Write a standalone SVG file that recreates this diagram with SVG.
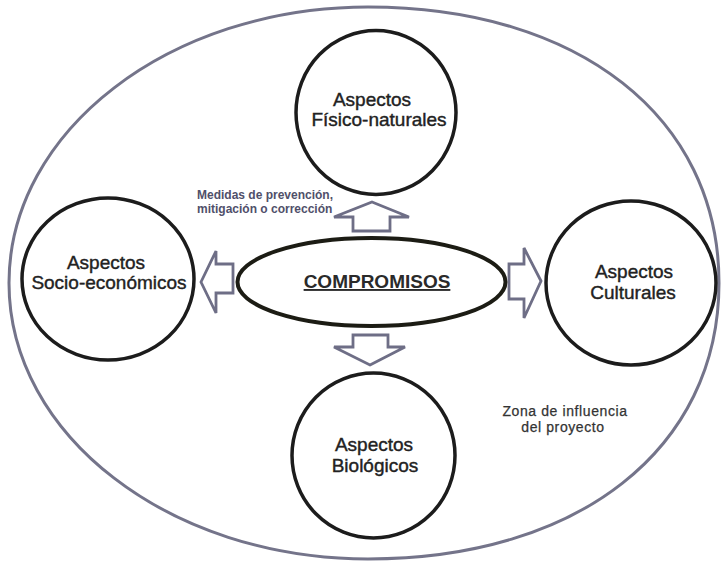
<svg xmlns="http://www.w3.org/2000/svg" width="721" height="562" viewBox="0 0 721 562">
<style>
.bg{fill:#ffffff}
.zone{fill:none;stroke:#74748a;stroke-width:3}
.node{fill:#ffffff;stroke:#1c1c1c;stroke-width:3.5}
.core{fill:#ffffff;stroke:#1c1c14;stroke-width:4}
.lbl{font-family:"Liberation Sans",Arial,sans-serif;font-size:19px;fill:#222222;stroke:#222222;stroke-width:0.4;text-anchor:middle}
.core-lbl{font-family:"Liberation Sans",Arial,sans-serif;font-size:19px;font-weight:bold;fill:#2a2a2a;text-anchor:middle;text-decoration:underline}
.note{font-family:"Liberation Sans",Arial,sans-serif;font-size:12px;font-weight:bold;fill:#50506a}
.zlbl{font-family:"Liberation Sans",Arial,sans-serif;font-size:14px;letter-spacing:0.6px;fill:#333333;stroke:#333333;stroke-width:0.25;text-anchor:middle}
.arrow{fill:#ffffff;stroke:#6e6e86;stroke-width:2.8;stroke-linejoin:miter}
</style>
<rect class="bg" x="0" y="0" width="721" height="562"/>
<g id="zona-influencia">
<path class="zone" d="M368,7 C578.6,7 719,117.4 719,283 C719,448.6 578.6,559 368,559 C169.7,559 9,435.4 9,283 C9,130.6 169.7,7 368,7 Z"/>
<text class="zlbl" x="565" y="416">Zona de influencia</text>
<text class="zlbl" x="563" y="432">del proyecto</text>
</g>
<g id="connectors">
<polygon class="arrow" points="372,202 409,217 390,217 390,231 353,231 353,217 334,217"/>
<polygon class="arrow" points="370,365 405,347 388,347 388,335 353,335 353,347 334,347"/>
<polygon class="arrow" points="201,282 216,251 216,264 233,264 233,293 216,293 216,313"/>
<polygon class="arrow" points="541,281 524,248 524,264 509,264 509,299 524,299 524,318"/>
<g id="connector-label">
<text class="note" x="197" y="199">Medidas de prevención,</text>
<text class="note" x="197" y="213">mitigación o corrección</text>
</g>
</g>
<g id="fisico-naturales">
<ellipse class="node" cx="376" cy="112.5" rx="80" ry="82"/>
<text class="lbl" x="372" y="106">Aspectos</text>
<text class="lbl" x="379" y="126">Físico-naturales</text>
</g>
<g id="socio-economicos">
<ellipse class="node" cx="108" cy="279" rx="86" ry="81"/>
<text class="lbl" x="106" y="269">Aspectos</text>
<text class="lbl" x="109" y="289">Socio-económicos</text>
</g>
<g id="culturales">
<ellipse class="node" cx="631" cy="283" rx="85" ry="82"/>
<text class="lbl" x="634" y="278">Aspectos</text>
<text class="lbl" x="633" y="299">Culturales</text>
</g>
<g id="biologicos">
<ellipse class="node" cx="373.5" cy="455.5" rx="81.5" ry="82.5"/>
<text class="lbl" x="374" y="451">Aspectos</text>
<text class="lbl" x="375" y="472">Biológicos</text>
</g>
<g id="compromisos">
<ellipse class="core" cx="371.5" cy="282" rx="134" ry="44"/>
<text class="core-lbl" x="377" y="288">COMPROMISOS</text>
</g>
</svg>
